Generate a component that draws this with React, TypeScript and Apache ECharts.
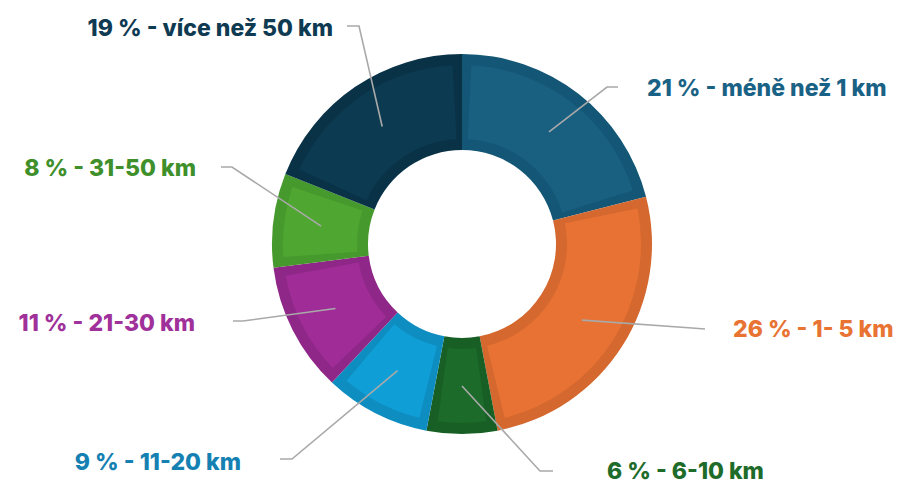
import React, { useEffect, useRef } from "react";
import * as echarts from "echarts";

// ---- data ----
const categories = [
  "méně než 1 km",
  "1- 5 km",
  "6-10 km",
  "11-20 km",
  "21-30 km",
  "31-50 km",
  "více než 50 km",
];
const shares = [21, 26, 6, 9, 11, 8, 19];

// ---- styles ----
const fillColors = ["#195f80", "#e87233", "#1c6b2a", "#109ed6", "#a02d97", "#4fa731", "#0c3a51"];
const edgeColors = ["#135675", "#d4682f", "#175f24", "#0e8dc1", "#8f2788", "#46992c", "#093247"];
const labelColors = ["#1a6285", "#e87332", "#1e6b2a", "#1580b2", "#a0309a", "#3f8f2a", "#0e3a52"];

const CX = 462;
const CY = 244;
// label geometry relative to the pie centre: elbow, end of line, text anchor
const labelGeom = [
  { elbow: [145, -157], end: [156, -157], text: [185, -156], align: "left" },
  { elbow: [230, 84], end: [243, 85], text: [271, 85], align: "left" },
  { elbow: [78, 227], end: [91, 227], text: [145, 227], align: "left" },
  { elbow: [-170, 215], end: [-182, 215], text: [-221, 218], align: "right" },
  { elbow: [-219, 77], end: [-229, 77], text: [-267, 79], align: "right" },
  { elbow: [-230, -77], end: [-241, -77], text: [-266, -76], align: "right" },
  { elbow: [-103, -218], end: [-115, -218], text: [-129, -216], align: "right" },
];

export default function App() {
  const ref = useRef<HTMLDivElement>(null);

  useEffect(() => {
    if (!ref.current) return;
    const chart = echarts.init(ref.current, undefined, { renderer: "svg" });

    const base = categories.map((name, i) => ({ name, value: shares[i] }));

    chart.setOption({
      animation: false,
      backgroundColor: "#ffffff",
      series: [
        {
          type: "pie",
          silent: true,
          z: 1,
          center: [CX, CY],
          radius: [94, 190],
          startAngle: 90,
          clockwise: true,
          label: { show: false },
          labelLine: { show: false },
          data: base.map((d, i) => ({ ...d, itemStyle: { color: edgeColors[i] } })),
        },
        {
          type: "pie",
          silent: true,
          z: 2,
          center: [CX, CY],
          radius: [105, 179],
          startAngle: 90,
          clockwise: true,
          padAngle: 6,
          label: { show: false },
          labelLine: { show: false },
          data: base.map((d, i) => ({ ...d, itemStyle: { color: fillColors[i] } })),
        },
        {
          type: "pie",
          silent: true,
          z: 6,
          center: [CX, CY],
          radius: [0, 142],
          startAngle: 90,
          clockwise: true,
          itemStyle: { color: "rgba(0,0,0,0)" },
          label: {
            show: true,
            position: "outside",
            formatter: "{c} % - {b}",
            fontFamily: "Inter",
            fontWeight: 800,
            fontSize: 23,
          },
          labelLine: {
            show: true,
            length: 20,
            length2: 10,
            lineStyle: { color: "#a9a9a9", width: 1.6 },
          },
          labelLayout: (params: any) => {
            const g = labelGeom[params.dataIndex];
            const start = params.labelLinePoints ? params.labelLinePoints[0] : [CX, CY];
            return {
              x: CX + g.text[0],
              y: CY + g.text[1],
              align: g.align,
              verticalAlign: "middle",
              labelLinePoints: [
                start,
                [CX + g.elbow[0], CY + g.elbow[1]],
                [CX + g.end[0], CY + g.end[1]],
              ],
            };
          },
          data: base.map((d, i) => ({ ...d, label: { color: labelColors[i] } })),
        },
      ],
    });

    return () => chart.dispose();
  }, []);

  return (
    <div
      ref={ref}
      style={{ position: "fixed", left: 0, top: 0, width: 906, height: 484 }}
    />
  );
}
